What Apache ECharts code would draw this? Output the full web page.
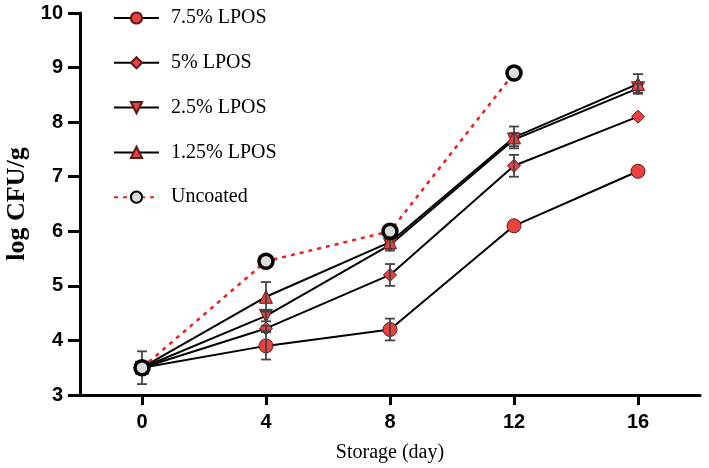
<!DOCTYPE html>
<html>
<head>
<meta charset="utf-8">
<style>html,body{margin:0;padding:0;background:#fff;}#c{width:709px;height:468px;}</style>
<script src="https://cdn.jsdelivr.net/npm/echarts@6/dist/echarts.min.js"></script>
</head>
<body>
<div id="c"></div>
<script>
const days = [0, 4, 8, 12, 16];
const xTicks = [0, 4, 8, 12, 16];
const yTicks = [3, 4, 5, 6, 7, 8, 9, 10];
const seriesNames = ['7.5% LPOS', '5% LPOS', '2.5% LPOS', '1.25% LPOS', 'Uncoated'];
const lpos75 = [3.5, 3.9, 4.2, 6.1, 7.1];
const lpos5 = [3.5, 4.22, 5.2, 7.2, 8.1];
const lpos25 = [3.5, 4.45, 5.75, 7.68, 8.62];
const lpos125 = [3.5, 4.8, 5.8, 7.72, 8.7];
const uncoated = [3.5, 5.45, 6.0, 8.9];
const err75 = [0.3, 0.25, 0.2, 0, 0];
const err5 = [0, 0.05, 0.2, 0.2, 0];
const err25 = [0, 0.1, 0.1, 0.12, 0.08];
const err125 = [0, 0.27, 0.15, 0.2, 0.18];

const pairs = (vals) => vals.map((v, i) => [days[i], v]);
const errData = [];
[[lpos75, err75], [lpos5, err5], [lpos25, err25], [lpos125, err125]].forEach(([v, e]) => {
  v.forEach((y, i) => { if (e[i] > 0) errData.push([days[i], y - e[i], y + e[i]]); });
});

const red = '#e8413f';
const edge = '#5a1a1a';
const mk = (name, vals, symbol, size, rot) => ({
  name, type: 'line', data: pairs(vals), symbol, symbolSize: size, symbolRotate: rot || 0,
  showAllSymbol: true,
  lineStyle: { color: '#000', width: 2 },
  itemStyle: { color: red, borderColor: edge, borderWidth: 1 },
  emphasis: { disabled: true }, z: 3
});

const chart = echarts.init(document.getElementById('c'));
chart.setOption({
  animation: false,
  grid: { left: 80, right: 9, top: 13, bottom: 73, containLabel: false, outerBoundsMode: 'none' },
  legend: {
    orient: 'vertical', left: 113, top: 8, padding: 0, itemWidth: 45, itemHeight: 14, itemGap: 24.8,
    data: seriesNames,
    textStyle: { fontFamily: 'Liberation Serif', fontSize: 20, color: '#000', padding: [0, 0, 0, 7] }
  },
  xAxis: {
    type: 'value', min: -2, max: 18,
    name: 'Storage (day)', nameLocation: 'middle', nameGap: 48,
    nameTextStyle: { fontFamily: 'Liberation Serif', fontSize: 20, color: '#000' },
    axisLine: { onZero: false, lineStyle: { color: '#000', width: 3 } },
    axisTick: { customValues: xTicks, length: 10, lineStyle: { color: '#000', width: 3 } },
    axisLabel: { customValues: xTicks, margin: 17, fontFamily: 'Liberation Sans', fontWeight: 'bold', fontSize: 20, color: '#000' },
    splitLine: { show: false }
  },
  yAxis: {
    type: 'value', min: 3, max: 10, interval: 1,
    name: 'log CFU/g', nameLocation: 'middle', nameGap: 44,
    nameTextStyle: { fontFamily: 'Liberation Serif', fontWeight: 'bold', fontSize: 26, color: '#000' },
    axisLine: { show: true, onZero: false, lineStyle: { color: '#000', width: 3 } },
    axisTick: { show: true, length: 12, lineStyle: { color: '#000', width: 3 } },
    axisLabel: { margin: 17, fontFamily: 'Liberation Sans', fontWeight: 'bold', fontSize: 20, color: '#000',
      formatter: (v) => yTicks.includes(v) ? String(v) : '' },
    splitLine: { show: false }
  },
  series: [
    mk(seriesNames[0], lpos75, 'circle', 14),
    mk(seriesNames[1], lpos5, 'diamond', 13),
    mk(seriesNames[2], lpos25, 'triangle', 13, 180),
    mk(seriesNames[3], lpos125, 'triangle', 13),
    {
      name: 'errbars', type: 'custom', data: errData, z: 4, silent: true,
      renderItem: (params, api) => {
        const x = api.value(0);
        const lo = api.coord([x, api.value(1)]);
        const hi = api.coord([x, api.value(2)]);
        const w = 5;
        const st = { stroke: '#444', lineWidth: 1.8 };
        return { type: 'group', children: [
          { type: 'line', shape: { x1: lo[0], y1: lo[1], x2: hi[0], y2: hi[1] }, style: st },
          { type: 'line', shape: { x1: lo[0] - w, y1: lo[1], x2: lo[0] + w, y2: lo[1] }, style: st },
          { type: 'line', shape: { x1: hi[0] - w, y1: hi[1], x2: hi[0] + w, y2: hi[1] }, style: st }
        ]};
      }
    },
    {
      name: seriesNames[4], type: 'line', data: pairs(uncoated), symbol: 'circle', symbolSize: 14,
      showAllSymbol: true, z: 5,
      lineStyle: { color: '#e8201f', width: 2.5, type: [4, 5] },
      itemStyle: { color: '#dcdcdc', borderColor: '#000', borderWidth: 3.5 },
      emphasis: { disabled: true }
    }
  ]
});
</script>
</body>
</html>
